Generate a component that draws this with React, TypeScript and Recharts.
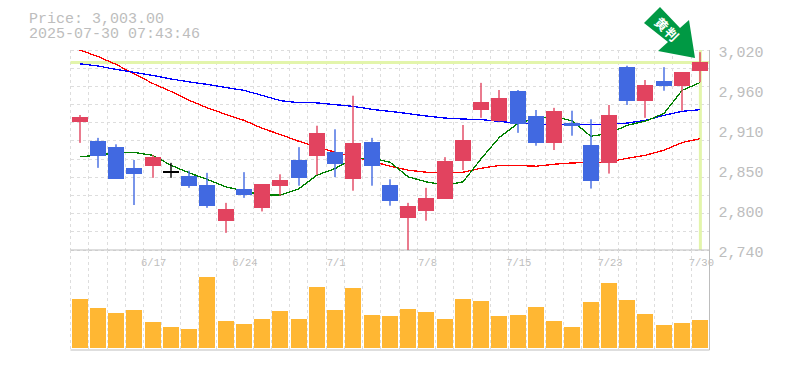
import { Bar, CartesianGrid, ComposedChart, Line, ReferenceLine, XAxis, YAxis } from 'recharts';

const dates = ['6/11', '6/12', '6/13', '6/16', '6/17', '6/18', '6/19', '6/20', '6/23', '6/24', '6/25', '6/26', '6/27', '6/30', '7/1', '7/2', '7/3', '7/4', '7/7', '7/8', '7/9', '7/10', '7/11', '7/14', '7/15', '7/16', '7/17', '7/18', '7/22', '7/23', '7/24', '7/25', '7/28', '7/29', '7/30'];
const opens = [2919, 2893, 2884, 2855, 2857, 2850, 2844, 2831, 2781, 2825, 2799, 2830, 2866, 2872, 2877, 2840, 2891, 2831, 2785, 2795, 2812, 2864, 2936, 2920, 2963, 2928, 2890, 2918, 2887, 2862, 2996, 2949, 2977, 2970, 2990];
const highs = [2929, 2897, 2888, 2866, 2873, 2862, 2851, 2848, 2806, 2849, 2832, 2846, 2884, 2914, 2909, 2956, 2897, 2839, 2806, 2827, 2870, 2915, 2974, 2964, 2964, 2936, 2939, 2935, 2923, 2943, 2998, 2978, 2996, 2989, 3017];
const lows = [2890, 2855, 2840, 2803, 2841, 2841, 2827, 2799, 2764, 2813, 2794, 2816, 2830, 2845, 2842, 2823, 2830, 2802, 2740, 2781, 2812, 2852, 2925, 2920, 2904, 2886, 2880, 2900, 2826, 2847, 2943, 2925, 2963, 2935, 2975];
const closes = [2926, 2872, 2840, 2847, 2870, 2850, 2830, 2801, 2797, 2817, 2832, 2838, 2841, 2904, 2861, 2890, 2858, 2808, 2802, 2813, 2865, 2894, 2947, 2953, 2917, 2890, 2935, 2914, 2837, 2929, 2949, 2971, 2970, 2989, 3003];
const maShort = [2870.9, 2873, 2876.5, 2876.8, 2873, 2859, 2848.2, 2839, 2828.6, 2823, 2817, 2817, 2825.8, 2845, 2854.4, 2868.4, 2868.8, 2863.2, 2842.6, 2835.6, 2831, 2835.6, 2868.4, 2898.2, 2917.4, 2924.8, 2927.6, 2921, 2899.6, 2903.8, 2915, 2921, 2931.4, 2964, 2975.2];
const maMid = [3001.4, 2998.3, 2993.4, 2989.2, 2985, 2980.1, 2975.9, 2972.4, 2968.2, 2964, 2957, 2949.6, 2946.8, 2946.5, 2944, 2941.6, 2937.4, 2934.6, 2931.4, 2928, 2925.2, 2923.8, 2923, 2920.6, 2917.8, 2916.4, 2916.4, 2916.4, 2916.4, 2916.4, 2918.2, 2922, 2929, 2934.6, 2937];
const maLong = [3020.7, 3011.6, 3000.4, 2987.1, 2973.8, 2962.6, 2950, 2939.5, 2930.4, 2922, 2910.8, 2902, 2892.6, 2884.6, 2877.2, 2870.6, 2864.6, 2857.6, 2852, 2849.2, 2848.2, 2849.2, 2854.8, 2858.6, 2858.6, 2857.6, 2860.4, 2862.2, 2862.8, 2863.6, 2868.8, 2873, 2880, 2890.8, 2896.4];
const volumes = [493, 403, 353, 383, 263, 213, 193, 713, 273, 243, 293, 373, 293, 613, 383, 603, 333, 323, 393, 363, 293, 493, 473, 323, 333, 413, 273, 213, 463, 653, 483, 343, 233, 253, 283];
const priceTicks = [3020, 2964, 2908, 2852, 2796, 2740];
const dateTicks = ['6/17', '6/24', '7/1', '7/8', '7/15', '7/23', '7/30'];
const lastPrice = 3003;

const rows = dates.map((date, i) => ({
  date,
  open: opens[i],
  high: highs[i],
  low: lows[i],
  close: closes[i],
  maShort: maShort[i],
  maMid: maMid[i],
  maLong: maLong[i],
  volume: volumes[i],
}));

const LEFT = 70.5;
const PLOT_W = 639;
const PLOT_H = 200;
const TOP = 50;
const verticalPoints = dates.map((_, i) => LEFT + (i * PLOT_W) / dates.length);
const horizontalPoints = Array.from({ length: 12 }, (_, i) => TOP + (i * PLOT_H) / 11);

const FONT = '"Liberation Mono", monospace';
const GREY = '#bdbdbd';
const LIME = '#e3f5ab';
const priceDomain = [2740, 3020];

function Candle(props: any) {
  const { x, y, width, height, payload } = props;
  const { open, high, low, close } = payload;
  const perUnit = height / (high - low);
  const bodyTop = y + (high - Math.max(open, close)) * perUnit;
  const bodyH = Math.max(Math.abs(close - open) * perUnit, 2);
  const color = close === open ? '#000000' : close > open ? '#e2435f' : '#4169e1';
  const cx = Math.round(x) + width / 2;
  return (
    <g>
      <rect x={cx - 0.7} y={y} width={1.4} height={height} fill={color} />
      <rect x={cx - width / 2} y={bodyTop} width={width} height={bodyH} fill={color} shapeRendering="crispEdges" />
    </g>
  );
}

function PriceTick(props: any) {
  const { x, y, payload } = props;
  const label = (Math.round(payload.value / 10) * 10).toLocaleString('en-US');
  return (
    <text x={x + 1} y={y + 7} fill={GREY} fontFamily={FONT} fontSize={15}>
      {label}
    </text>
  );
}

function DateTick(props: any) {
  const { x, y, payload } = props;
  return (
    <text x={x + 1} y={y + 8} fill={GREY} fontFamily={FONT} fontSize={10.5} textAnchor="middle">
      {payload.value}
    </text>
  );
}

export default function App() {
  return (
    <div style={{ position: 'absolute', left: 0, top: 0, width: 785, height: 370, overflow: 'hidden', background: '#fff' }}>
      <div style={{ position: 'absolute', left: 0, top: 0 }}>
        <ComposedChart width={785} height={270} data={rows} margin={{ top: TOP, right: 0.5, bottom: 0, left: LEFT }}>
          <CartesianGrid stroke="#dddddd" strokeDasharray="3 3" verticalPoints={verticalPoints} horizontalPoints={horizontalPoints} shapeRendering="crispEdges" />
          <XAxis dataKey="date" scale="band" height={20} ticks={dateTicks} interval={0} tick={<DateTick />} tickLine={false} stroke={GREY} />
          <YAxis orientation="right" width={75} domain={priceDomain} ticks={priceTicks} interval={0} tick={<PriceTick />} tickLine={false} stroke={GREY} />
          <ReferenceLine y={lastPrice} stroke={LIME} strokeWidth={3} />
          <ReferenceLine x="7/30" stroke={LIME} strokeWidth={3} />
          <Line dataKey="maLong" stroke="#ff0000" strokeWidth={1.3} dot={false} isAnimationActive={false} shapeRendering="crispEdges" />
          <Line dataKey="maMid" stroke="#0000ff" strokeWidth={1.3} dot={false} isAnimationActive={false} shapeRendering="crispEdges" />
          <Line dataKey="maShort" stroke="#008000" strokeWidth={1.3} dot={false} isAnimationActive={false} shapeRendering="crispEdges" />
        </ComposedChart>
      </div>
      <div style={{ position: 'absolute', left: 0, top: 0 }}>
        <ComposedChart width={785} height={270} data={rows} margin={{ top: TOP, right: 75.5, bottom: 20, left: LEFT }}>
          <XAxis dataKey="date" hide />
          <YAxis hide domain={priceDomain} />
          <Bar dataKey={(d: any) => [d.low, d.high]} barSize={16} shape={<Candle />} isAnimationActive={false} />
        </ComposedChart>
      </div>
      <div style={{ position: 'absolute', left: 0, top: 250 }}>
        <ComposedChart width={785} height={102} data={rows} margin={{ top: 0, right: 0.5, bottom: 2, left: LEFT }}>
          <CartesianGrid stroke="#dddddd" strokeDasharray="3 3" horizontal={false} verticalPoints={verticalPoints} shapeRendering="crispEdges" />
          <XAxis dataKey="date" hide />
          <YAxis orientation="right" width={75} domain={[-17, 983]} tick={false} tickLine={false} stroke={GREY} />
          <ReferenceLine y={-17} stroke={GREY} strokeWidth={1} />
          <Bar dataKey="volume" barSize={16} fill="#ffb733" isAnimationActive={false} shapeRendering="crispEdges" />
        </ComposedChart>
      </div>
      <svg width={785} height={70} style={{ position: 'absolute', left: 0, top: 0 }}>
        <text x={29} y={23} fill={GREY} fontFamily={FONT} fontSize={15}>Price: 3,003.00</text>
        <text x={29} y={38} fill={GREY} fontFamily={FONT} fontSize={15}>2025-07-30 07:43:46</text>
        <polygon points="660,7 644,23 668,42 658,51 695,58 689,20 680,28" fill="#009944" />
        <text x={662} y={24} fill="#ffffff" fontFamily='"Noto Sans CJK JP"' fontWeight={700} fontSize={13} textAnchor="middle" dominantBaseline="central" transform="rotate(45 662 24)">黄</text>
        <text x={672} y={34} fill="#ffffff" fontFamily='"Noto Sans CJK JP"' fontWeight={700} fontSize={13} textAnchor="middle" dominantBaseline="central" transform="rotate(45 672 34)">判</text>
      </svg>
    </div>
  );
}
